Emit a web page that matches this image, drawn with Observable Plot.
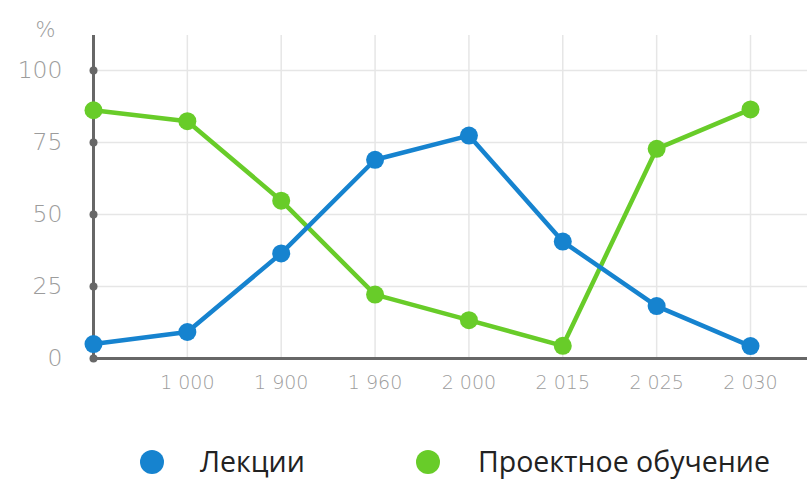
<!DOCTYPE html>
<html><head><meta charset="utf-8">
<script src="https://cdn.jsdelivr.net/npm/d3@7"></script>
<script src="https://cdn.jsdelivr.net/npm/@observablehq/plot@0.6"></script>
<style>
body{margin:0;background:#fff;}
#wrap{width:807px;}
#legend{position:relative;height:69px;width:807px;font-family:"Open Sans","Noto Sans",sans-serif;color:#222;}
#legend .sw{position:absolute;width:24px;height:24px;border-radius:50%;top:40px;}
#legend .lb{position:absolute;top:33px;font-size:28.5px;line-height:36px;}
</style></head><body><div id="wrap"><div id="chart"></div><div id="legend"></div></div><script>
const categories = ["", "1 000", "1 900", "1 960", "2 000", "2 015", "2 025", "2 030"];
const lectures = [5, 9.2, 36.5, 69, 77.4, 40.6, 18.2, 4.3];
const projects = [86.2, 82.4, 54.8, 22.2, 13.3, 4.4, 72.8, 86.5];
const yTicks = [0, 25, 50, 75, 100];
const seriesNames = ["Лекции", "Проектное обучение"];
const colors = ["#1683cf", "#68cc29"];

// green drawn first, blue on top
const data = [
  ...categories.map((c, i) => ({cat: c, v: projects[i], s: seriesNames[1]})),
  ...categories.map((c, i) => ({cat: c, v: lectures[i], s: seriesNames[0]}))
];
const axisColor = "#676767";
const gridColor = "#e6e6e6";
const labelColor = "#9c9c9c";
const font = "'DejaVu Sans', sans-serif";

const chart = Plot.plot({
  width: 807, height: 410,
  marginLeft: 93, marginRight: 0, marginTop: 35, marginBottom: 52,
  x: {type: "point", domain: categories, range: [93, 750], padding: 0, round: false},
  y: {domain: [0, 100], range: [358, 70]},
  color: {domain: seriesNames, range: colors},
  style: {fontFamily: font, background: "#fff", color: labelColor},
  marks: [
    Plot.ruleY(yTicks.slice(1), {stroke: gridColor, strokeWidth: 1.5}),
    Plot.ruleX(categories.slice(1), {stroke: gridColor, strokeWidth: 1.5}),
    Plot.axisX({tickSize: 0, tickPadding: 17, fontSize: 19, fontWeight: 200, fill: labelColor, label: null}),
    Plot.axisY({ticks: yTicks, tickSize: 0, tickPadding: 31, fontSize: 23.5, fontWeight: 200, fill: labelColor, label: null}),
    Plot.ruleY([0], {stroke: axisColor, strokeWidth: 3}),
    Plot.ruleX([categories[0]], {stroke: axisColor, strokeWidth: 3}),
    Plot.dot(yTicks, {x: () => categories[0], y: d => d, r: 4, fill: axisColor}),
    Plot.line(data, {x: "cat", y: "v", z: "s", stroke: "s", strokeWidth: 4.5}),
    Plot.dot(data, {x: "cat", y: "v", fill: "s", r: 9}),
    Plot.text(["%"], {frameAnchor: "top-left", dx: -48, dy: -13, fontSize: 21, fontWeight: 200, fill: labelColor, textAnchor: "middle"})
  ]
});
document.getElementById("chart").appendChild(chart);

const legend = document.getElementById("legend");
const legendPos = [[140, 200], [416, 478]];
seriesNames.forEach((name, i) => {
  const sw = document.createElement("div");
  sw.className = "sw";
  sw.style.left = legendPos[i][0] + "px";
  sw.style.background = colors[i];
  legend.appendChild(sw);
  const lb = document.createElement("div");
  lb.className = "lb";
  lb.style.left = legendPos[i][1] + "px";
  lb.textContent = name;
  legend.appendChild(lb);
});
</script></body></html>
